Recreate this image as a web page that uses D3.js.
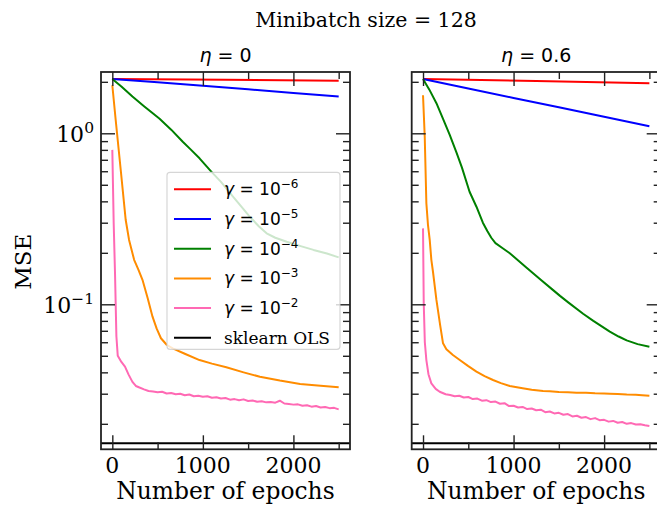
<!DOCTYPE html>
<html><head><meta charset="utf-8">
<script src="https://cdn.jsdelivr.net/npm/d3@7"></script>
<style>body{margin:0;background:#fff}svg{display:block}</style>
</head><body>
<svg id="c" width="657" height="506"></svg>
<script>
// ---------- data ----------
const epochTicksMajor = [0, 1000, 2000];
const epochTicksMinor = [500, 1500, 2500];
const mseTicksMajor = [0.1, 1];
const mseTickExponents = ["−1", "0"];
const mseTicksMinor = [0.02,0.03,0.04,0.05,0.06,0.07,0.08,0.09,0.2,0.3,0.4,0.5,0.6,0.7,0.8,0.9,2];
const panelTitles = ["0", "0.6"];
const seriesExponents = ["−6", "−5", "−4", "−3", "−2"];
const olsLabel = "sklearn OLS";
const olsMSE = 0.01538;

// eta = 0
const red_eta0 = [[0,2.08],[1250,2.055],[2500,2.03]];
const blue_eta0 = [[0,2.08],[500,1.99],[1000,1.90],[1500,1.81],[2000,1.72],[2500,1.64]];
const green_eta0 = [[0,2.08],[100,1.88],[222,1.64],[350,1.44],[519,1.22],[650,1.05],[778,0.893],[870,0.80],[963,0.714],[1093,0.597],[1200,0.52],[1333,0.426],[1430,0.37],[1519,0.325],[1620,0.285],[1704,0.26],[1800,0.245],[1926,0.232],[2080,0.219],[2222,0.208],[2370,0.198],[2500,0.188]];
const orange_eta0 = [[0,1.91],[37,1.20],[93,0.61],[148,0.311],[185,0.238],[241,0.182],[289,0.159],[333,0.139],[390,0.109],[444,0.0847],[490,0.072],[537,0.0633],[600,0.058],[667,0.0553],[800,0.0514],[963,0.0472],[1100,0.045],[1259,0.0428],[1450,0.0400],[1630,0.0377],[1850,0.0358],[2074,0.0342],[2300,0.0334],[2500,0.0327]];
const pink_eta0 = [[0,0.80],[15,0.30],[30,0.15],[45,0.065],[60,0.050],[100,0.046],[140,0.0432],[180,0.0388],[222,0.0352],[260,0.0333],
 [300,0.0326],[350,0.0318],[400,0.0311],[450,0.0309],[500,0.0306],[550,0.0308],[600,0.0301],[650,0.0303],[700,0.0298],[750,0.0300],
 [800,0.0294],[850,0.0297],[900,0.0290],[950,0.0292],[1000,0.0288],[1050,0.0290],[1100,0.0284],[1150,0.0286],[1200,0.0281],[1250,0.0283],
 [1300,0.0277],[1350,0.0279],[1400,0.0275],[1450,0.0278],[1500,0.0272],[1550,0.0274],[1600,0.0269],[1650,0.0271],[1700,0.0267],[1750,0.0268],
 [1800,0.0266],[1850,0.0273],[1900,0.0263],[1950,0.0261],[2000,0.0259],[2050,0.0260],[2100,0.0255],[2150,0.0257],[2200,0.0252],[2250,0.0254],
 [2300,0.0249],[2350,0.0251],[2400,0.0247],[2450,0.0248],[2500,0.0243]];

// eta = 0.6
const red_eta06 = [[0,2.08],[1250,2.02],[2500,1.96]];
const blue_eta06 = [[0,2.08],[500,1.83],[1000,1.61],[1500,1.42],[2000,1.25],[2500,1.10]];
const green_eta06 = [[0,2.08],[70,1.80],[148,1.50],[220,1.22],[295,0.98],[370,0.77],[430,0.63],[514,0.455],[590,0.372],[661,0.30],[710,0.268],[754,0.245],[800,0.228],[884,0.212],[958,0.199],[1032,0.184],[1141,0.164],[1300,0.139],[1437,0.121],[1513,0.112],[1600,0.103],[1768,0.088],[1881,0.080],[2063,0.0692],[2160,0.0648],[2249,0.0615],[2370,0.0585],[2500,0.0565]];
const orange_eta06 = [[0,1.67],[19,0.955],[37,0.39],[55,0.29],[74,0.238],[92,0.182],[110,0.155],[148,0.106],[190,0.075],[221,0.0591],[258,0.0546],[330,0.0505],[406,0.0472],[500,0.0435],[590,0.0404],[680,0.0380],[773,0.0361],[860,0.0346],[958,0.0333],[1100,0.0323],[1200,0.0316],[1326,0.0311],[1400,0.0310],[1500,0.0307],[1600,0.0306],[1695,0.0304],[1800,0.0304],[1900,0.0302],[2000,0.0301],[2063,0.0300],[2150,0.0299],[2250,0.0297],[2350,0.0296],[2420,0.0294],[2500,0.0292]];
const pink_eta06 = [[0,0.278],[8,0.101],[20,0.060],[37,0.0472],[60,0.039],[92,0.0345],[140,0.032],[184,0.0308],[250,0.0298],
 [300,0.0295],[350,0.0290],[400,0.0292],[450,0.0285],[500,0.0287],[550,0.0279],[600,0.0281],[650,0.0273],[700,0.0275],[750,0.0268],
 [800,0.0270],[850,0.0262],[900,0.0264],[950,0.0254],[1000,0.0255],[1050,0.0249],[1100,0.0251],[1150,0.0244],[1200,0.0246],[1250,0.0240],
 [1300,0.0242],[1350,0.0234],[1400,0.0236],[1450,0.0230],[1500,0.0232],[1550,0.0226],[1600,0.0228],[1650,0.0221],[1700,0.0223],[1750,0.0217],
 [1800,0.0219],[1850,0.0213],[1900,0.0216],[1950,0.0210],[2000,0.0211],[2050,0.0206],[2100,0.0208],[2150,0.0203],[2200,0.0205],[2250,0.0200],
 [2300,0.0202],[2350,0.0198],[2400,0.0199],[2450,0.0196],[2500,0.0194]];

const panelSeries = [
  [red_eta0, blue_eta0, green_eta0, orange_eta0, pink_eta0],
  [red_eta06, blue_eta06, green_eta06, orange_eta06, pink_eta06]
];
const seriesColors = ["#ff0000", "#0000ff", "#008000", "#ff8c00", "#ff69b4"];

// ---------- layout ----------
const SERIF = "'DejaVu Serif', serif";
const SANS = "'DejaVu Sans', sans-serif";
const svg = d3.select("#c");
const W = 249, TOP = 72, BOT = 449.3;
const panelLefts = [101, 411.7];
const x = d3.scaleLinear().domain([-125, 2625]).range([0, W]);
const decade = 171, y0 = 133.3;
const y = d3.scaleLog()
  .domain([Math.pow(10, (y0 - BOT) / decade), Math.pow(10, (y0 - TOP) / decade)])
  .range([BOT, TOP]);

const frameColor = "#222";
const MAJ = 14, MIN = 7;

// suptitle
svg.append("text").attr("x", 366).attr("y", 26.7).attr("text-anchor", "middle")
  .attr("font-family", SERIF).attr("font-size", 20.5).attr("fill", "#000")
  .text("Minibatch size = 128");

function styleAxis(g) {
  g.select(".domain").remove();
  g.selectAll(".tick line").attr("stroke", frameColor).attr("stroke-width", 1.4);
  g.selectAll(".tick text").remove();
}

panelLefts.forEach((L, pi) => {
  const g = svg.append("g").attr("transform", `translate(${L},0)`);
  const clipId = "clip" + pi;
  g.append("clipPath").attr("id", clipId).append("rect")
    .attr("x", 0).attr("y", TOP).attr("width", W).attr("height", BOT - TOP);

  const plot = g.append("g").attr("clip-path", `url(#${clipId})`);
  const line = d3.line().x(d => x(d[0])).y(d => y(d[1]));
  panelSeries[pi].forEach((s, i) => {
    plot.append("path").datum(s).attr("d", line)
      .attr("fill", "none").attr("stroke", seriesColors[i])
      .attr("stroke-width", 2).attr("stroke-linejoin", "round");
  });
  plot.append("line").attr("x1", 0).attr("x2", W)
    .attr("y1", y(olsMSE)).attr("y2", y(olsMSE))
    .attr("stroke", "#000").attr("stroke-width", 2);

  // ticks (inward, all sides)
  g.append("g").attr("transform", `translate(0,${BOT})`)
    .call(d3.axisBottom(x).tickValues(epochTicksMajor).tickSizeInner(-MAJ).tickSizeOuter(0)).call(styleAxis);
  g.append("g").attr("transform", `translate(0,${BOT})`)
    .call(d3.axisBottom(x).tickValues(epochTicksMinor).tickSizeInner(-MIN).tickSizeOuter(0)).call(styleAxis);
  g.append("g").attr("transform", `translate(0,${TOP})`)
    .call(d3.axisTop(x).tickValues(epochTicksMajor).tickSizeInner(-MAJ).tickSizeOuter(0)).call(styleAxis);
  g.append("g").attr("transform", `translate(0,${TOP})`)
    .call(d3.axisTop(x).tickValues(epochTicksMinor).tickSizeInner(-MIN).tickSizeOuter(0)).call(styleAxis);
  g.append("g")
    .call(d3.axisLeft(y).tickValues(mseTicksMajor).tickSizeInner(-MAJ).tickSizeOuter(0)).call(styleAxis);
  g.append("g")
    .call(d3.axisLeft(y).tickValues(mseTicksMinor).tickSizeInner(-MIN).tickSizeOuter(0)).call(styleAxis);
  g.append("g").attr("transform", `translate(${W},0)`)
    .call(d3.axisRight(y).tickValues(mseTicksMajor).tickSizeInner(-MAJ).tickSizeOuter(0)).call(styleAxis);
  g.append("g").attr("transform", `translate(${W},0)`)
    .call(d3.axisRight(y).tickValues(mseTicksMinor).tickSizeInner(-MIN).tickSizeOuter(0)).call(styleAxis);

  // frame
  g.append("rect").attr("x", 0).attr("y", TOP).attr("width", W).attr("height", BOT - TOP)
    .attr("fill", "none").attr("stroke", frameColor).attr("stroke-width", 1.8);

  // x tick labels
  epochTicksMajor.forEach(v => {
    g.append("text").attr("x", x(v)).attr("y", 473.3).attr("text-anchor", "middle")
      .attr("font-family", SERIF).attr("font-size", 22).attr("fill", "#000").text(v);
  });
  // x label
  g.append("text").attr("x", W / 2).attr("y", 498.5).attr("text-anchor", "middle")
    .attr("font-family", SERIF).attr("font-size", 23.4).attr("fill", "#000").text("Number of epochs");

  // panel title
  const t = g.append("text").attr("x", W / 2).attr("y", 62.3).attr("text-anchor", "middle")
    .attr("font-family", SANS).attr("font-size", 19).attr("fill", "#000");
  t.append("tspan").attr("font-style", "italic").text("η");
  t.append("tspan").text(" = " + panelTitles[pi]);

  if (pi === 0) {
    // y tick labels
    mseTicksMajor.forEach((v, i) => {
      const tx = g.append("text").attr("x", -7).attr("y", y(v) + 8.5).attr("text-anchor", "end")
        .attr("font-family", SERIF).attr("font-size", 22).attr("fill", "#000");
      tx.append("tspan").text("10");
      tx.append("tspan").attr("font-size", 15.5).attr("dy", -9).text(mseTickExponents[i]);
    });
    // legend
    const lg = g.append("g");
    const lx = 167 - L, ly = 172.3, lw = 173, lh = 177;
    lg.append("rect").attr("x", lx).attr("y", ly).attr("width", lw).attr("height", lh)
      .attr("rx", 3).attr("fill", "#fff").attr("fill-opacity", 0.8)
      .attr("stroke", "#cccccc").attr("stroke-opacity", 0.8).attr("stroke-width", 1.2);
    const rowY = i => 189.3 + i * 29.7;
    const legendItems = seriesExponents.map((e, i) => ({ color: seriesColors[i], exp: e }))
      .concat([{ color: "#000", exp: null }]);
    legendItems.forEach((it, i) => {
      const cy = rowY(i);
      lg.append("line").attr("x1", 174 - L).attr("x2", 211 - L).attr("y1", cy).attr("y2", cy)
        .attr("stroke", it.color).attr("stroke-width", 2);
      if (it.exp) {
        const tt = lg.append("text").attr("x", 224 - L).attr("y", cy + 6)
          .attr("font-family", SANS).attr("font-size", 17).attr("fill", "#000");
        tt.append("tspan").attr("font-style", "italic").text("γ");
        tt.append("tspan").text(" = 10");
        tt.append("tspan").attr("font-size", 12).attr("dy", -7).text(it.exp);
      } else {
        lg.append("text").attr("x", 224 - L).attr("y", cy + 6)
          .attr("font-family", SERIF).attr("font-size", 17).attr("fill", "#000").text(olsLabel);
      }
    });
  }
});

// y label
svg.append("text").attr("transform", "translate(30.5,261.7) rotate(-90)").attr("text-anchor", "middle")
  .attr("font-family", SERIF).attr("font-size", 23).attr("fill", "#000").text("MSE");
</script>
</body></html>
